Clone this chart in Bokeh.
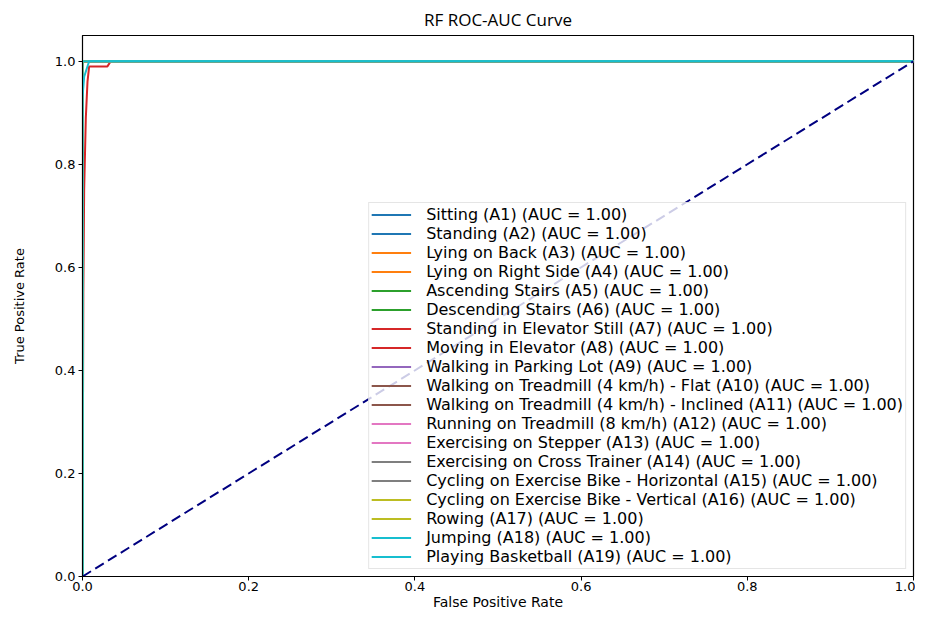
from bokeh.plotting import figure
from bokeh.models import Range1d, FixedTicker, NumeralTickFormatter, Legend, LegendItem
from bokeh.embed import file_html
from bokeh.resources import INLINE

# ---- data ----
labels = [
    "Sitting (A1)", "Standing (A2)", "Lying on Back (A3)", "Lying on Right Side (A4)",
    "Ascending Stairs (A5)", "Descending Stairs (A6)", "Standing in Elevator Still (A7)",
    "Moving in Elevator (A8)", "Walking in Parking Lot (A9)",
    "Walking on Treadmill (4 km/h) - Flat (A10)", "Walking on Treadmill (4 km/h) - Inclined (A11)",
    "Running on Treadmill (8 km/h) (A12)", "Exercising on Stepper (A13)",
    "Exercising on Cross Trainer (A14)", "Cycling on Exercise Bike - Horizontal (A15)",
    "Cycling on Exercise Bike - Vertical (A16)", "Rowing (A17)", "Jumping (A18)",
    "Playing Basketball (A19)",
]
auc_values = [1.00] * 19
colors = [
    "#1f77b4", "#1f77b4", "#ff7f0e", "#ff7f0e", "#2ca02c", "#2ca02c", "#d62728", "#d62728",
    "#9467bd", "#8c564b", "#8c564b", "#e377c2", "#e377c2", "#7f7f7f", "#7f7f7f",
    "#bcbd22", "#bcbd22", "#17becf", "#17becf",
]
perfect_fpr = [0.0, 0.0, 1.0]
perfect_tpr = [0.0, 1.0, 1.0]
red_fpr = [0.0, 0.001, 0.002, 0.004, 0.006, 0.008, 0.030, 0.034, 1.0]
red_tpr = [0.0, 0.55, 0.75, 0.89, 0.96, 0.99, 0.99, 1.0, 1.0]
cyan_fpr = [0.0, 0.0, 0.002, 0.008, 1.0]
cyan_tpr = [0.0, 0.93, 0.97, 1.0, 1.0]
fpr_list = [perfect_fpr] * 6 + [red_fpr] + [perfect_fpr] * 10 + [cyan_fpr, perfect_fpr]
tpr_list = [perfect_tpr] * 6 + [red_tpr] + [perfect_tpr] * 10 + [cyan_tpr, perfect_tpr]
diag_x = [0.0, 1.0]
diag_y = [0.0, 1.0]
ticks = [0.0, 0.2, 0.4, 0.6, 0.8, 1.0]

p = figure(width=915, height=612, output_backend="svg", toolbar_location=None,
           x_range=Range1d(0, 1.0), y_range=Range1d(0, 1.05),
           title="RF ROC-AUC Curve")
p.min_border_left = 82
p.min_border_right = 2
p.min_border_top = 35
p.min_border_bottom = 34

p.title.text_font = "Open Sans"
p.title.text_font_size = "17px"
p.title.text_font_style = "normal"
p.title.text_color = "black"
p.title.align = "center"
p.title.offset = 0
p.title.standoff = 9

p.xgrid.visible = False
p.ygrid.visible = False
p.outline_line_color = "black"
p.outline_line_width = 1.2

for ax in (p.xaxis[0], p.yaxis[0]):
    ax.ticker = FixedTicker(ticks=ticks)
    ax.formatter = NumeralTickFormatter(format="0.0")
    ax.axis_line_color = "black"
    ax.major_tick_in = 0
    ax.major_tick_out = 4
    ax.major_tick_line_color = "black"
    ax.minor_tick_line_color = None
    ax.major_label_text_font = "DejaVu Sans"
    ax.major_label_text_font_size = "13px"
    ax.major_label_text_color = "black"
    ax.axis_label_text_font = "DejaVu Sans"
    ax.axis_label_text_font_style = "normal"
    ax.axis_label_text_color = "black"

p.xaxis.major_label_standoff = 1
p.xaxis.axis_label_standoff = 0
p.xaxis.axis_label_text_font_size = "14px"
p.yaxis.major_label_standoff = 3
p.yaxis.axis_label_standoff = 25
p.yaxis.axis_label_text_font_size = "13px"

p.xaxis.axis_label = "False Positive Rate"
p.yaxis.axis_label = "True Positive Rate"

items = []
for lab, auc, c, fx, ty in zip(labels, auc_values, colors, fpr_list, tpr_list):
    r = p.line(fx, ty, line_color=c, line_width=2)
    items.append(LegendItem(label=f"{lab} (AUC = {auc:.2f})", renderers=[r]))

p.line(diag_x, diag_y, line_color="navy", line_width=2, line_dash="10 5")

legend = Legend(items=items, location="bottom_right")
legend.margin = 7
legend.padding = 2
legend.spacing = 0
legend.label_height = 19
legend.glyph_height = 19
legend.glyph_width = 40
legend.label_standoff = 15
legend.label_text_font = "DejaVu Sans"
legend.label_text_font_size = "16px"
legend.label_text_color = "black"
legend.label_text_line_height = 1.0
legend.background_fill_alpha = 0.8
legend.border_line_color = "#cccccc"
legend.border_line_width = 1
p.add_layout(legend, "center")

open("out.html", "w").write(file_html(p, INLINE))
